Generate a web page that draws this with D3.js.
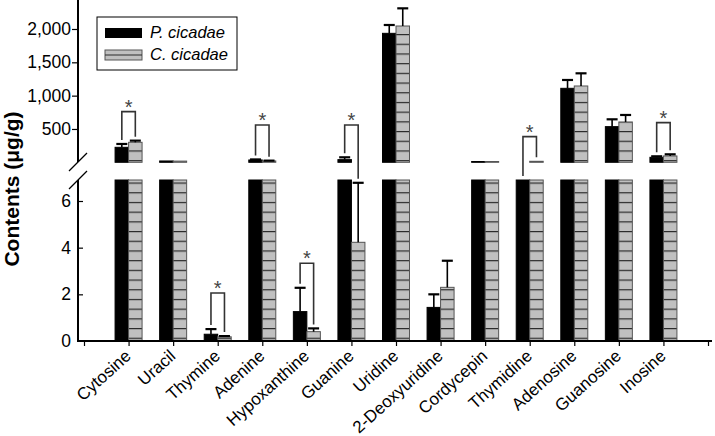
<!DOCTYPE html>
<html><head><meta charset="utf-8">
<script src="https://cdn.jsdelivr.net/npm/d3@7"></script>
<style>
body{margin:0;background:#fff;}
svg{display:block;font-family:"Liberation Sans",Arial,sans-serif;}
</style></head>
<body><svg id="c" width="715" height="436"></svg>
<script>
// ---------- data ----------
const categories = ["Cytosine","Uracil","Thymine","Adenine","Hypoxanthine","Guanine","Uridine","2-Deoxyuridine","Cordycepin","Thymidine","Adenosine","Guanosine","Inosine"];
const seriesNames = ["P. cicadae","C. cicadae"];
const pValues = [225, 20, 0.29, 35, 1.26, 40, 1935, 1.44, 12, 7.0, 1110, 535, 75];
const pErrors = [50, 0, 0.22, 8, 1.02, 35, 125, 0.56, 0, 0, 125, 110, 15];
const cValues = [300, 18, 0.18, 20, 0.40, 4.23, 2045, 2.30, 12, 15, 1145, 605, 95];
const cErrors = [25, 0, 0.03, 5, 0.14, 2.55, 265, 1.14, 0, 0, 190, 105, 25];
const sigLevels = [760, null, 2.06, 560, 3.33, 560, null, null, null, 385, null, null, 595];
const upperTicks = [500, 1000, 1500, 2000];
const lowerTicks = [0, 2, 4, 6];

// ---------- layout ----------
const svg = d3.select("#c");
const axisX = 78, baseY = 341;
const x = d3.scaleLinear().domain([0, categories.length + 1]).range([84, 708]);
const lowerMax = 6.9, upperMin = 8;
const yLower = d3.scaleLinear().domain([0, lowerMax]).range([baseY, 180]);
const yUpper = d3.scaleLinear().domain([0, 2435]).range([162.3, 0]);
const barW = 13.5;
function pos(v){ return v <= lowerMax ? yLower(v) : (v < upperMin ? yLower(lowerMax) : yUpper(v)); }

// hatch patterns
const defs = svg.append("defs");
function pattern(id, yOff){
  const p = defs.append("pattern").attr("id", id).attr("patternUnits","userSpaceOnUse")
    .attr("width", 20).attr("height", 9.7).attr("y", yOff);
  p.append("rect").attr("width",20).attr("height",9.7).attr("fill","#c0c0c0");
  p.append("line").attr("x1",0).attr("x2",20).attr("y1",0.6).attr("y2",0.6)
    .attr("stroke","#2a2a2a").attr("stroke-width",1.2);
}
pattern("hatchL", 7.9);
pattern("hatchU", 4.9);

const series = [
  {vals: pValues, errs: pErrors, off: -barW, fill: "#000", stroke: "#000"},
  {vals: cValues, errs: cErrors, off: 0, fill: null, stroke: "#555"}
];

const gBars = svg.append("g");
series.forEach((s, si) => {
  categories.forEach((c, i) => {
    const v = s.vals[i];
    const x0 = x(i + 1) + s.off;
    const yl = yLower(Math.min(v, lowerMax));
    gBars.append("rect").attr("x", x0).attr("y", yl).attr("width", barW).attr("height", baseY - yl)
      .attr("fill", si === 0 ? s.fill : "url(#hatchL)").attr("stroke", s.stroke).attr("stroke-width", 1);
    if (v >= upperMin) {
      const yu = yUpper(v);
      gBars.append("rect").attr("x", x0).attr("y", yu).attr("width", barW).attr("height", yUpper(0) - yu)
        .attr("fill", si === 0 ? s.fill : "url(#hatchU)").attr("stroke", s.stroke).attr("stroke-width", 1);
    }
    const e = s.errs[i];
    if (e > 0) {
      const cx = x0 + barW / 2;
      const yt = pos(v + e);
      gBars.append("line").attr("x1", cx).attr("x2", cx).attr("y1", pos(v)).attr("y2", yt)
        .attr("stroke", "#000").attr("stroke-width", 1.6);
      gBars.append("line").attr("x1", cx - 5.5).attr("x2", cx + 5.5).attr("y1", yt).attr("y2", yt)
        .attr("stroke", "#000").attr("stroke-width", 2.2);
    }
  });
});

// significance brackets
const gSig = svg.append("g");
sigLevels.forEach((L, i) => {
  if (L == null) return;
  const xl = x(i + 1) - barW / 2, xr = x(i + 1) + barW / 2;
  const yt = pos(L);
  const ylB = pos(pValues[i] + pErrors[i]) - 4;
  const yrB = pos(cValues[i] + cErrors[i]) - 4;
  gSig.append("path").attr("d", `M${xl},${ylB}L${xl},${yt}L${xr},${yt}L${xr},${yrB}`)
    .attr("fill", "none").attr("stroke", "#333").attr("stroke-width", 1.6);
  gSig.append("text").attr("x", (xl + xr) / 2).attr("y", yt + 2).attr("text-anchor", "middle")
    .attr("font-size", 20).attr("fill", "#444").text("*");
});

// y axes
const fmt = d3.format(",");
const gU = svg.append("g").attr("transform", `translate(${axisX},0)`)
  .call(d3.axisLeft(yUpper).tickValues(upperTicks).tickFormat(fmt).tickSize(6).tickPadding(1));
gU.select(".domain").remove();
const gL = svg.append("g").attr("transform", `translate(${axisX},0)`)
  .call(d3.axisLeft(yLower).tickValues(lowerTicks).tickFormat(d3.format("d")).tickSize(-5).tickPadding(7));
gL.select(".domain").remove();
[gU, gL].forEach(g => {
  g.selectAll("text").attr("font-size", 17.5).attr("font-family", "Liberation Sans, Arial, sans-serif").attr("fill", "#000");
  g.selectAll("line").attr("stroke", "#000").attr("stroke-width", 1.2);
});
gL.selectAll(".tick").filter(d => d === 0).select("line").remove();
svg.append("line").attr("x1", axisX).attr("x2", axisX).attr("y1", 0).attr("y2", 162).attr("stroke", "#000").attr("stroke-width", 2);
svg.append("line").attr("x1", axisX).attr("x2", axisX).attr("y1", 180).attr("y2", baseY + 1).attr("stroke", "#000").attr("stroke-width", 2);
// break marks
[162, 180].forEach(cy => {
  svg.append("line").attr("x1", axisX - 9).attr("y1", cy + 9).attr("x2", axisX + 9).attr("y2", cy - 9)
    .attr("stroke", "#000").attr("stroke-width", 1.2);
});

// x axis
const gX = svg.append("g").attr("transform", `translate(0,${baseY})`)
  .call(d3.axisBottom(x).tickValues(d3.range(0, categories.length + 2))
    .tickFormat(d => (d >= 1 && d <= categories.length) ? categories[d - 1] : "").tickSize(5));
gX.select(".domain").remove();
gX.selectAll("line").attr("stroke", "#000").attr("stroke-width", 1.2);
gX.selectAll("text").attr("font-size", 17).attr("font-family", "Liberation Sans, Arial, sans-serif").attr("fill", "#000")
  .attr("text-anchor", "end").attr("x", 0).attr("y", 0).attr("dy", 0)
  .attr("transform", "translate(3,16.5) rotate(-42)");
svg.append("line").attr("x1", axisX - 1).attr("x2", 712).attr("y1", baseY).attr("y2", baseY).attr("stroke", "#000").attr("stroke-width", 2);

// y title
svg.append("text").attr("transform", "translate(19,189) rotate(-90)").attr("text-anchor", "middle")
  .attr("font-size", 21).attr("font-weight", "bold").attr("fill", "#000").text("Contents (\u03bcg/g)");

// legend
const lg = svg.append("g");
lg.append("rect").attr("x", 97).attr("y", 17).attr("width", 140).attr("height", 53)
  .attr("fill", "#fff").attr("stroke", "#000").attr("stroke-width", 1);
lg.append("rect").attr("x", 105).attr("y", 28).attr("width", 37).attr("height", 10).attr("fill", "#000");
lg.append("rect").attr("x", 105).attr("y", 50).attr("width", 37).attr("height", 10).attr("fill", "#c0c0c0").attr("stroke", "#555");
lg.append("line").attr("x1", 105).attr("x2", 142).attr("y1", 55).attr("y2", 55).attr("stroke", "#2a2a2a").attr("stroke-width", 1.2);
seriesNames.forEach((n, i) => {
  lg.append("text").attr("x", 150).attr("y", 38 + i * 22).attr("font-size", 16.5).attr("font-style", "italic").attr("fill", "#000").text(n);
});
</script></body></html>
